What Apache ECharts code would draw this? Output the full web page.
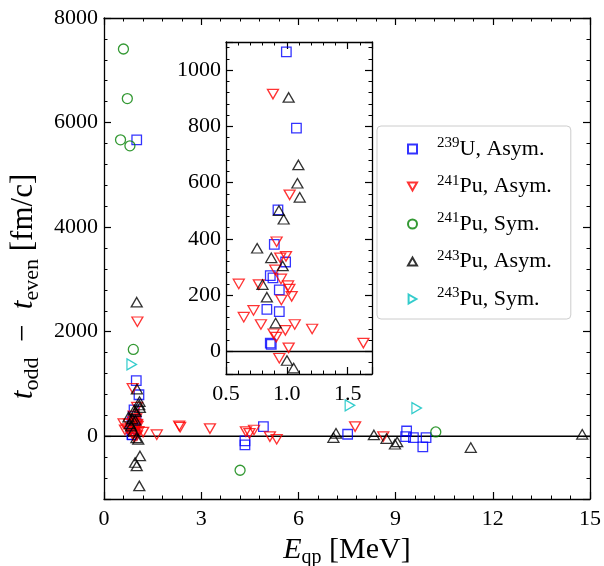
<!DOCTYPE html>
<html><head><meta charset="utf-8">
<script src="https://cdn.jsdelivr.net/npm/echarts@6/dist/echarts.min.js"></script>
<style>html,body{margin:0;padding:0;background:#fff}#c{width:604px;height:566px}</style>
</head><body><div id="c"></div><script>
// ---- data ([E_qp (MeV), t_odd - t_even (fm/c)]) ----
const u239Asym = [[0.996,1065],[1.079,794],[0.927,503],[0.897,381],[0.99,318],[0.864,270],[0.886,262],[0.938,219],[0.836,150],[0.938,142],[0.864,30],[0.872,25],
  [1.01,5670],[4.35,-90],[4.35,-166],[4.92,185],[7.52,38],[9.34,101],[9.31,-6],[9.55,-25],[9.84,-204],[9.94,-25]];
const pu241Asym = [[0.886,915],[1.023,557],[0.916,390],[0.946,333],[0.993,338],[0.905,290],[0.952,258],[0.605,240],[0.770,238],[1.010,234],[1.021,222],[1.040,196],[0.955,183],[0.726,146],[0.646,122],[0.787,96],[1.065,96],[0.988,75],[1.208,80],[0.891,63],[0.913,51],[1.015,13],[0.938,-24],[1.629,30],
  [1.03,2190],[2.32,197],[2.35,175],[3.27,147],[4.38,90],[4.49,57],[4.63,120],[5.12,-6],[5.33,-57],[7.75,185],[8.62,-6]];
const pu241Sym = [[0.60,7407],[0.72,6458],[0.51,5670],[0.80,5555],[0.905,1661],[4.2,-650],[10.24,82]];
const pu243Asym = [[1.015,903],[1.095,663],[1.087,598],[1.106,548],[0.935,501],[0.974,470],[0.756,367],[0.872,333],[0.966,304],[0.800,238],[0.836,193],[0.908,101],[1.001,-32],[1.056,-59],
  [1.01,2564],[0.96,-502],[1.01,-567],[1.11,-376],[1.09,-949],[7.08,-25],[7.16,57],[8.33,25],[8.72,-44],[8.98,-153],[9.05,-109],[11.32,-216],[14.76,38]];
const pu243Sym = [[0.855,1374],[7.59,592],[9.65,540]];

const mainXTicks = [0,3,6,9,12,15];
const mainYTicks = [0,2000,4000,6000,8000];
const insetXTicks = [0.5,1.0,1.5];
const insetYTicks = [0,200,400,600,800,1000];
const mainXRange = [0,15], mainYRange = [-1200,8000];
const insetXRange = [0.5,1.7], insetYRange = [-80,1100];
const refLevel = 0;

const TRI_DOWN = 'path://M0,0L10,0L5,8.66Z';
const TRI_UP = 'path://M5,0L10,8.66L0,8.66Z';
const TRI_RIGHT = 'path://M0,0L8.66,5L0,10Z';
const seriesDefs = [
  {key:'U239A', sup:'239', txt:'U, Asym.',  data:u239Asym,  color:'#0000ff', symbol:'rect',   size:[9.5,9.5]},
  {key:'Pu241A',sup:'241', txt:'Pu, Asym.', data:pu241Asym, color:'#ff0000', symbol:TRI_DOWN, size:[11,9.5]},
  {key:'Pu241S',sup:'241', txt:'Pu, Sym.',  data:pu241Sym,  color:'#008000', symbol:'circle', size:[10,10]},
  {key:'Pu243A',sup:'243', txt:'Pu, Asym.', data:pu243Asym, color:'#000000', symbol:TRI_UP,   size:[11,9.5]},
  {key:'Pu243S',sup:'243', txt:'Pu, Sym.',  data:pu243Sym,  color:'#00bfbf', symbol:TRI_RIGHT,size:[9.5,11]}
];

const FONT = 'Liberation Serif';
const BLACK = '#000';

function ax(extra) {
  return Object.assign({
    type:'value',
    axisLine:{show:true, onZero:false, lineStyle:{color:BLACK, width:1.3}},
    axisTick:{show:true, inside:true, length:7, lineStyle:{color:BLACK, width:1.2}},
    minorTick:{show:true, splitNumber:5, length:3.5, lineStyle:{color:BLACK, width:1}},
    splitLine:{show:false},
    axisLabel:{show:true, color:BLACK, fontFamily:FONT, fontSize:22}
  }, extra);
}
const noLabel = {show:false};
const xRich = {
  it:{fontFamily:FONT, fontStyle:'italic', fontSize:30, lineHeight:36, verticalAlign:'middle', color:BLACK},
  sub:{fontFamily:FONT, fontSize:20, lineHeight:36, verticalAlign:'bottom', color:BLACK},
  n:{fontFamily:FONT, fontSize:30, lineHeight:36, verticalAlign:'middle', color:BLACK}
};
const yRich = {
  it:{fontFamily:FONT, fontStyle:'italic', fontSize:31, lineHeight:38, verticalAlign:'middle', color:BLACK},
  sub:{fontFamily:FONT, fontSize:22, lineHeight:38, verticalAlign:'bottom', color:BLACK},
  n:{fontFamily:FONT, fontSize:31, lineHeight:38, verticalAlign:'middle', color:BLACK}
};

const xAxis = [
  ax({gridIndex:0, position:'bottom', min:mainXRange[0], max:mainXRange[1], interval:mainXTicks[1]-mainXTicks[0],
      axisLabel:{show:true, color:BLACK, fontFamily:FONT, fontSize:22, margin:9},
      name:'{it|E}{sub|qp}{n| [MeV]}', nameLocation:'middle', nameGap:30,
      nameTextStyle:{fontFamily:FONT, color:BLACK, rich:xRich}}),
  ax({gridIndex:0, position:'top', min:mainXRange[0], max:mainXRange[1], interval:mainXTicks[1]-mainXTicks[0], axisLabel:noLabel}),
  ax({gridIndex:1, position:'bottom', min:insetXRange[0], max:insetXRange[1], interval:insetXTicks[1]-insetXTicks[0],
      axisLabel:{show:true, color:BLACK, fontFamily:FONT, fontSize:22, margin:9, showMaxLabel:false,
        formatter:v => insetXTicks.some(t=>Math.abs(t-v)<1e-9) ? v.toFixed(1) : ''}}),
  ax({gridIndex:1, position:'top', min:insetXRange[0], max:insetXRange[1], interval:insetXTicks[1]-insetXTicks[0], axisLabel:noLabel})
];
const yAxis = [
  ax({gridIndex:0, position:'left', min:mainYRange[0], max:mainYRange[1], splitNumber:5,
      axisLabel:{show:true, color:BLACK, fontFamily:FONT, fontSize:22, margin:6, showMinLabel:false,
        formatter:v => mainYTicks.includes(v) ? String(v) : ''},
      name:'{it|t}{sub|odd}{n|  −  }{it|t}{sub|even}{n| [fm/c]}', nameLocation:'middle', nameGap:44, nameRotate:90,
      nameTextStyle:{fontFamily:FONT, color:BLACK, rich:yRich, padding:[0,56,0,0]}}),
  ax({gridIndex:0, position:'right', min:mainYRange[0], max:mainYRange[1], splitNumber:5, axisLabel:noLabel}),
  ax({gridIndex:1, position:'left', min:insetYRange[0], max:insetYRange[1], splitNumber:6,
      axisLabel:{show:true, color:BLACK, fontFamily:FONT, fontSize:22, margin:5, showMinLabel:false, showMaxLabel:false,
        formatter:v => insetYTicks.includes(v) ? String(v) : ''}}),
  ax({gridIndex:1, position:'right', min:insetYRange[0], max:insetYRange[1], splitNumber:6, axisLabel:noLabel})
];

const series = [];
seriesDefs.forEach(d => {
  [[0,0],[2,2]].forEach(([xi, yi]) => {
    series.push({
      type:'scatter', name:d.key, data:d.data, xAxisIndex:xi, yAxisIndex:yi,
      symbol:d.symbol, symbolSize:d.size, clip:true,
      itemStyle:{color:'rgba(255,255,255,0)', borderColor:d.color, borderWidth:1.3}
    });
  });
});
// horizontal reference line at t_odd - t_even = 0 across each panel
[[0,0,mainXRange],[2,2,insetXRange]].forEach(([xi, yi, xr]) => {
  series.push({type:'line', xAxisIndex:xi, yAxisIndex:yi, data:[[xr[0],refLevel],[xr[1],refLevel]],
    symbol:'none', silent:true, clip:true, lineStyle:{color:BLACK, width:1.5, type:'solid'}, z:1});
});

const legendRich = {
  sp:{width:15, height:10},
  sup:{fontFamily:FONT, fontSize:15, lineHeight:26, verticalAlign:'top', color:BLACK},
  n:{fontFamily:FONT, fontSize:22, lineHeight:26, verticalAlign:'middle', color:BLACK}
};

const option = {
  animation:false,
  grid:[
    {left:104, top:18, right:14, bottom:67, outerBoundsMode:'none'},
    {left:226, top:42, right:232, bottom:192, outerBoundsMode:'none'}
  ],
  xAxis, yAxis, series,
  legend:{
    orient:'vertical', left:377, top:126,
    data:seriesDefs.map(d=>({name:d.key, icon:d.symbol})),
    padding:[10,19,9,30], itemGap:13.5, itemWidth:9, itemHeight:9,
    backgroundColor:'#fff', borderColor:'#cccccc', borderWidth:1, borderRadius:4,
    formatter: name => { const d = seriesDefs.find(s=>s.key===name); return '{sp|}{sup|'+d.sup+'}{n|'+d.txt+'}'; },
    textStyle:{fontFamily:FONT, fontSize:22, color:BLACK, rich:legendRich},
    selectedMode:false
  }
};

const chart = echarts.init(document.getElementById('c'), null, {renderer:'canvas'});
chart.setOption(option);
</script></body></html>
